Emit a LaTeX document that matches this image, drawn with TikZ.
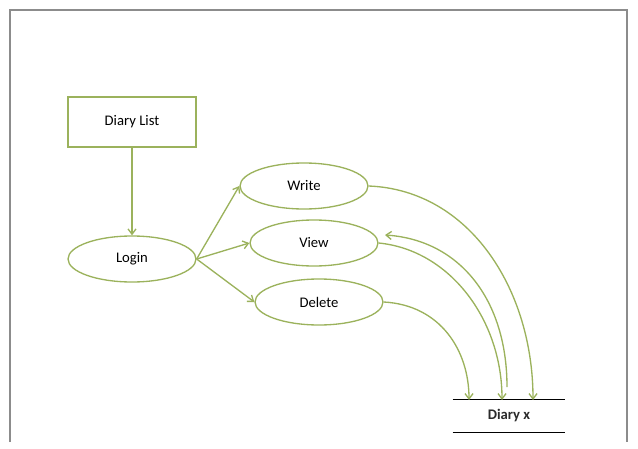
\documentclass[tikz,border=0pt]{standalone}
\usepackage{fontspec}
\setmainfont{Carlito}
\usepackage{xcolor}
\usetikzlibrary{calc,shapes.geometric,arrows.meta}
\definecolor{olive}{HTML}{9BB25C}
\definecolor{frame}{HTML}{8C8C8C}
\definecolor{ink}{HTML}{2B2B2B}

\begin{document}
\begin{tikzpicture}[x=0.75pt,y=-0.75pt,
		usecase/.style={ellipse,draw=olive,line width=1pt,minimum width=96pt,minimum height=34.5pt,font=\fontsize{11}{13}\selectfont},
		box/.style={rectangle,draw=olive,line width=1pt,minimum width=96pt,minimum height=37.5pt,font=\fontsize{11}{13}\selectfont},
		link/.style={olive,line width=1pt,-{Straight Barb[length=4pt,width=6pt]}}]
			\useasboundingbox (0,0) rectangle (638,449);
			\draw[frame,line width=0.8pt] (10,442) -- (10,10) -- (627,10) -- (627,442);
			% nodes
			\node[box] (diarylist) at (132,122) {Diary List};
			\node[usecase] (login) at (132,259) {Login};
			\node[usecase] (write) at (304,186) {Write};
			\node[usecase] (view) at (314,243) {View};
			\node[usecase] (delete) at (319,302) {Delete};
			\node[minimum width=84pt,minimum height=24pt,text=ink,font=\fontsize{11}{13}\selectfont\bfseries] (diaryx) at (509,416) {Diary x};
			\draw[line width=0.8pt] (diaryx.north west) -- (diaryx.north east);
			\draw[line width=0.8pt] (diaryx.south west) -- (diaryx.south east);
			% ends on the store
			\coordinate (dDelete) at (469,400);
			\coordinate (dView) at (502,400);
			\coordinate (dBack) at (507,387);
			\coordinate (dWrite) at (533,400);
			\coordinate (vBack) at (385,235);
			% connectors
			\draw[link] (diarylist.south) -- (login.north);
			\draw[link] (login.east) -- (write.west);
			\draw[link] (login.east) -- (view.west);
			\draw[link] (login.east) -- (delete.west);
			\draw[link] (write.east) .. controls (470,190) and (533,290) .. (dWrite);
			\draw[link] (view.east) .. controls (450,250) and (502,320) .. (dView);
			\draw[link] (dBack) .. controls (507,300) and (460,240) .. (vBack);
			\draw[link] (delete.east) .. controls (440,305) and (469,350) .. (dDelete);
		\end{tikzpicture}
\end{document}
